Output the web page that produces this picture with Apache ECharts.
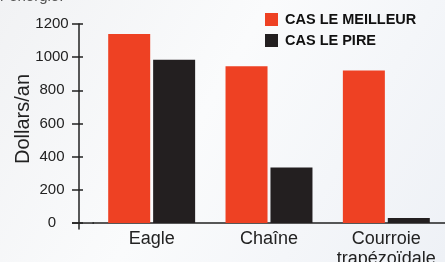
<!DOCTYPE html>
<html>
<head>
<meta charset="utf-8">
<script src="https://cdn.jsdelivr.net/npm/echarts@6/dist/echarts.min.js"></script>
<style>
  html, body { margin: 0; padding: 0; }
  #main { width: 445px; height: 262px; }
</style>
</head>
<body>
<div id="main"></div>
<script>
// catégories et valeurs
var categories = ['Eagle', 'Chaîne', 'Courroie\ntrapézoïdale']
var meilleur = [1140, 945, 920]
var pire = [985, 335, 30]
var yTicks = [0, 200, 400, 600, 800, 1000, 1200]

var RED = '#ee4123'
var BLACK = '#231f20'
var FONT = '"Liberation Sans", Arial, sans-serif'

var myChart = echarts.init(document.getElementById('main'))

var option = {
  animation: false,
  backgroundColor: new echarts.graphic.LinearGradient(0, 0, 1, 1, [
    { offset: 0, color: '#f1f2f4' },
    { offset: 0.45, color: '#fafbfc' },
    { offset: 1, color: '#eef1f6' }
  ]),
  graphic: [
    {
      type: 'text', left: 0, top: -11,
      style: { text: 'r énergie.', fontFamily: FONT, fontSize: 15, fill: '#555' }
    }
  ],
  legend: {
    orient: 'vertical',
    left: 265,
    top: 12,
    padding: 0,
    itemWidth: 13,
    itemHeight: 13,
    itemGap: 6,
    icon: 'rect',
    textStyle: { fontFamily: FONT, fontSize: 14.5, fontWeight: 'bold', color: '#111', lineHeight: 13, padding: [0, 0, 0, 2] },
    data: ['CAS LE MEILLEUR', 'CAS LE PIRE']
  },
  grid: { left: 93, right: 0, top: 24, bottom: 33, containLabel: false, outerBoundsMode: 'none' },
  xAxis: {
    type: 'category',
    data: categories,
    axisLine: { onZero: true, lineStyle: { color: '#222', width: 1.5 } },
    axisTick: { show: false },
    axisLabel: { fontFamily: FONT, fontSize: 18, color: '#222', margin: 0, lineHeight: 20, interval: 0, hideOverlap: false }
  },
  yAxis: [
    {
      type: 'value',
      min: -36,
      max: 1200,
      offset: 14,
      name: 'Dollars/an',
      nameLocation: 'middle',
      nameGap: 46,
      nameMoveOverlap: false,
      nameTextStyle: { fontFamily: FONT, fontSize: 20, color: '#222', padding: [0, 0, 0, 15] },
      axisLine: { show: true, lineStyle: { color: '#222', width: 1.5 } },
      axisTick: { show: true, length: 7, customValues: yTicks, lineStyle: { color: '#222', width: 1.5 } },
      axisLabel: {
        fontFamily: FONT, fontSize: 15, color: '#222', margin: 27, align: 'center',
        customValues: yTicks,
        formatter: function (v) { return String(v) }
      },
      splitLine: { show: false }
    },
    {
      type: 'value',
      min: -36,
      max: 1200,
      position: 'left',
      offset: 14,
      axisLine: { show: false },
      axisTick: { show: true, inside: true, length: 4, customValues: yTicks, lineStyle: { color: '#222', width: 1.5 } },
      axisLabel: { show: false },
      splitLine: { show: false }
    }
  ],
  series: [
    {
      name: 'CAS LE MEILLEUR',
      type: 'bar',
      data: meilleur,
      barWidth: 42,
      barGap: '7%',
      itemStyle: { color: RED }
    },
    {
      name: 'CAS LE PIRE',
      type: 'bar',
      data: pire,
      barWidth: 42,
      itemStyle: { color: BLACK }
    }
  ]
}
myChart.setOption(option)

// prolonge l'axe des x vers la gauche au-delà de l'axe des y
var y0 = myChart.convertToPixel({ yAxisIndex: 0 }, 0)
myChart.setOption({
  graphic: [
    option.graphic[0],
    {
      type: 'line',
      shape: { x1: 72, y1: y0, x2: 94, y2: y0 },
      style: { stroke: '#222', lineWidth: 1.5 }
    }
  ]
})
</script>
</body>
</html>
